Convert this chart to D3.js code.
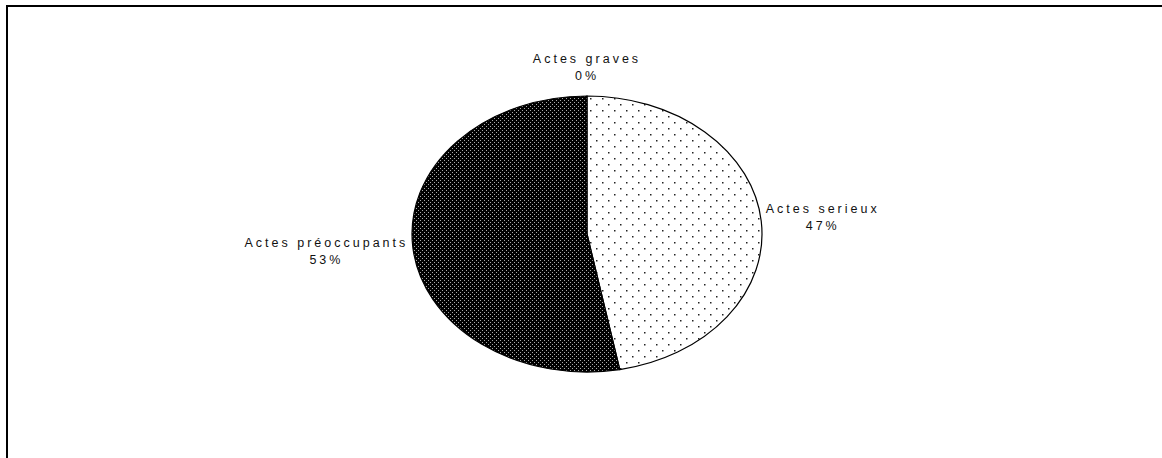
<!DOCTYPE html>
<html>
<head>
<meta charset="utf-8">
<script src="https://cdn.jsdelivr.net/npm/d3@7"></script>
<style>
    body { margin: 0; background: #fff; }
    svg text { font-family: "Liberation Sans", Arial, sans-serif; font-size: 12.5px; letter-spacing: 3px; fill: #111; }
</style>
</head>
<body>
<div id="chart"></div>
<script>
// data
const categories = ["Actes graves", "Actes serieux", "Actes préoccupants"];
const values = [0, 47, 53];
const percentLabels = ["0%", "47%", "53%"];
const fills = ["url(#dotsLight)", "url(#dotsLight)", "url(#dotsDark)"];

const width = 1162, height = 458;
const cx = 587, cy = 234, rx = 175, ry = 138;
const labelGap = 6, lineHeight = 17;

const svg = d3.select("#chart").append("svg")
    .attr("width", width)
    .attr("height", height);

const defs = svg.append("defs");

// sparse grey dots on white
const light = defs.append("pattern")
    .attr("id", "dotsLight")
    .attr("patternUnits", "userSpaceOnUse")
    .attr("width", 12).attr("height", 12);
light.append("rect").attr("width", 12).attr("height", 12).attr("fill", "#fff");
light.append("rect").attr("x", 2).attr("y", 2).attr("width", 1.5).attr("height", 1.5).attr("fill", "#222");
light.append("rect").attr("x", 8).attr("y", 8).attr("width", 1.5).attr("height", 1.5).attr("fill", "#222");

// dense white dots on black
const dark = defs.append("pattern")
    .attr("id", "dotsDark")
    .attr("patternUnits", "userSpaceOnUse")
    .attr("width", 4).attr("height", 4);
dark.append("rect").attr("width", 4).attr("height", 4).attr("fill", "#000");
dark.append("rect").attr("x", 0).attr("y", 0).attr("width", 1).attr("height", 1).attr("fill", "#aaa");
dark.append("rect").attr("x", 2).attr("y", 2).attr("width", 1).attr("height", 1).attr("fill", "#aaa");

// chart area border (runs off the bottom and right)
svg.append("rect")
    .attr("x", 7).attr("y", 6)
    .attr("width", width + 20).attr("height", height + 20)
    .attr("fill", "none")
    .attr("stroke", "#000")
    .attr("stroke-width", 2);

const pie = d3.pie().sort(null).value(d => d);
const arcs = pie(values);

// point on the ellipse for an angle measured clockwise from 12 o'clock
const ellipsePoint = (a, grow = 0) => [cx + (rx + grow) * Math.sin(a), cy - (ry + grow) * Math.cos(a)];

function slicePath(d) {
    const [x0, y0] = ellipsePoint(d.startAngle);
    const [x1, y1] = ellipsePoint(d.endAngle);
    const large = (d.endAngle - d.startAngle) > Math.PI ? 1 : 0;
    return `M${cx},${cy}L${x0},${y0}A${rx},${ry} 0 ${large} 1 ${x1},${y1}Z`;
}

const g = svg.append("g");

g.selectAll("path.slice")
    .data(arcs)
    .join("path")
    .attr("class", "slice")
    .attr("d", slicePath)
    .attr("fill", (d, i) => fills[i])
    .attr("stroke", "#000")
    .attr("stroke-width", 1.2)
    .attr("stroke-linejoin", "round");

// labels: two centred lines, block placed just outside the ellipse
const labels = svg.append("g");
arcs.forEach((d, i) => {
    const mid = (d.startAngle + d.endAngle) / 2;
    const [px, py] = ellipsePoint(mid, labelGap);
    const s = Math.sin(mid), c = Math.cos(mid);
    const t = labels.append("text").attr("text-anchor", "middle");
    const l1 = t.append("tspan").text(categories[i]);
    const l2 = t.append("tspan").text(percentLabels[i]);
    const w = Math.max(l1.node().getComputedTextLength(), l2.node().getComputedTextLength()) - 3;
    let x = px, base;
    if (s > 0.3) x = px + w / 2;
    else if (s < -0.3) x = px - w / 2;
    if (Math.abs(s) <= 0.3 && c > 0) base = py - lineHeight - 10;
    else base = py - 4 - c * 40;
    l1.attr("x", x).attr("y", base);
    l2.attr("x", x).attr("y", base + lineHeight);
});
</script>
</body>
</html>
